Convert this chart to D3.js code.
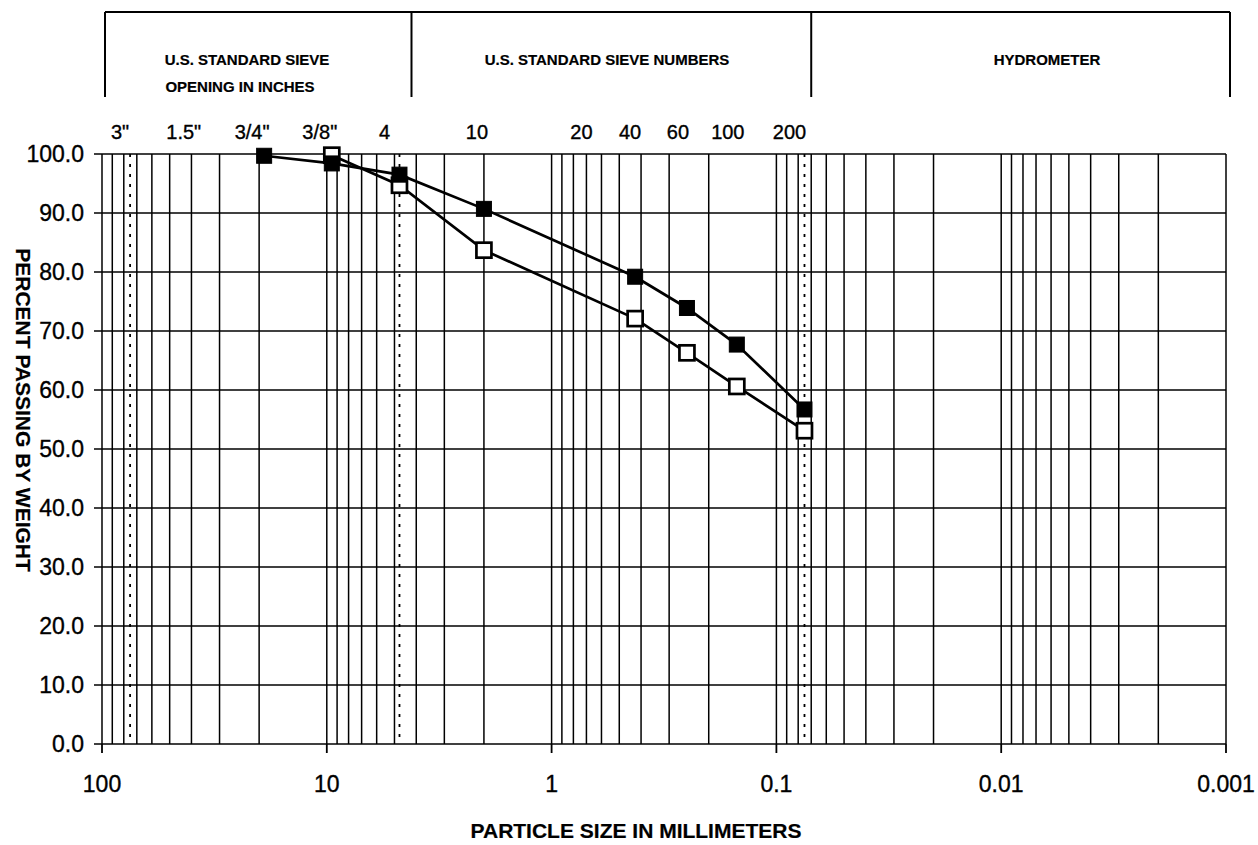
<!DOCTYPE html>
<html>
<head>
<meta charset="utf-8">
<script src="https://cdn.jsdelivr.net/npm/d3@7"></script>
<style>
  html, body { margin: 0; padding: 0; background: #fff; }
  svg { display: block; font-family: "Liberation Sans", Arial, Helvetica, sans-serif; }
  text { fill: #000; stroke: #000; stroke-width: 0.35px; }
</style>
</head>
<body>
<svg id="chart" width="1258" height="845"></svg>
<script>
// ---------------- data ----------------
const sieveLabels = ['3"', '1.5"', '3/4"', '3/8"', '4', '10', '20', '40', '60', '100', '200'];
const sieveSizes  = [75, 37.5, 19, 9.5, 4.75, 2.0, 0.85, 0.425, 0.25, 0.15, 0.075];

const headerTitles = [["U.S. STANDARD SIEVE", "OPENING IN INCHES"], ["U.S.  STANDARD SIEVE NUMBERS"], ["HYDROMETER"]];
const headerEdges  = [97, 4.2, 0.07, 0.00096];   // particle sizes (mm) bounding the header sections

const dottedSizes = [75, 4.75, 0.075];           // 3", #4, #200

const decadeTicks  = [100, 10, 1, 0.1, 0.01, 0.001];
const decadeLabels = ["100", "10", "1", "0.1", "0.01", "0.001"];
const yTicks = [0, 10, 20, 30, 40, 50, 60, 70, 80, 90, 100];

const filledSizes  = [19, 9.5, 4.75, 2.0, 0.425, 0.25, 0.15, 0.075];
const filledValues = [99.7, 98.4, 96.5, 90.7, 79.2, 73.9, 67.7, 56.7];

const openSizes  = [9.5, 4.75, 2.0, 0.425, 0.25, 0.15, 0.075];
const openValues = [99.8, 94.7, 83.7, 72.1, 66.3, 60.6, 53.1];

const xTitle = "PARTICLE SIZE IN MILLIMETERS";
const yTitle = "PERCENT PASSING BY WEIGHT";

// ---------------- layout ----------------
const L = { left: 102, right: 1226, top: 154, bottom: 744 };
const sieveLabelDx = [-10, -14, -12, -12, -15, -7, 14, -5, -9, -9, -15];

const svg = d3.select("#chart");
const x = d3.scaleLog().domain([100, 0.001]).range([L.left, L.right]);
const y = d3.scaleLinear().domain([0, 100]).range([L.bottom, L.top]);

// header box
const hdr = svg.append("g").attr("stroke", "#000").attr("stroke-width", 2);
hdr.append("line").attr("x1", x(headerEdges[0])).attr("x2", x(headerEdges[3])).attr("y1", 12).attr("y2", 12);
headerEdges.forEach(s => hdr.append("line").attr("x1", x(s)).attr("x2", x(s)).attr("y1", 12).attr("y2", 97));

const hdrCenters = [247, 607, 1047];
headerTitles.forEach((lines, i) => {
  lines.forEach((t, j) => {
    svg.append("text")
      .attr("x", hdrCenters[i] + (j === 1 ? -7 : 0))
      .attr("y", 65 + j * 27)
      .attr("text-anchor", "middle")
      .attr("font-size", 15).attr("font-weight", "bold")
      .style("stroke-width", "0.2px")
      .text(t);
  });
});

// sieve labels
svg.append("g").selectAll("text").data(sieveLabels).join("text")
  .attr("x", (d, i) => x(sieveSizes[i]) + sieveLabelDx[i])
  .attr("y", 139)
  .attr("text-anchor", "middle")
  .attr("font-size", 20)
  .text(d => d);

// vertical gridlines
const grid = svg.append("g").attr("stroke", "#000").attr("stroke-width", 1.5);
grid.selectAll("line.v").data(x.ticks()).join("line")
  .attr("class", "v")
  .attr("x1", d => x(d)).attr("x2", d => x(d))
  .attr("y1", L.top).attr("y2", L.bottom);

// dotted lines
grid.selectAll("line.d").data(dottedSizes).join("line")
  .attr("class", "d")
  .attr("x1", d => x(d)).attr("x2", d => x(d))
  .attr("y1", L.top).attr("y2", L.bottom)
  .attr("stroke-width", 1.8)
  .attr("stroke-dasharray", "3,7");

// horizontal gridlines + y ticks
grid.selectAll("line.h").data(yTicks).join("line")
  .attr("class", "h")
  .attr("x1", L.left - 8).attr("x2", L.right)
  .attr("y1", d => y(d)).attr("y2", d => y(d));

// x major ticks
grid.selectAll("line.t").data(decadeTicks).join("line")
  .attr("class", "t")
  .attr("x1", d => x(d)).attr("x2", d => x(d))
  .attr("y1", L.bottom).attr("y2", L.bottom + 9)
  .attr("stroke-width", 1.8);

// y tick labels
svg.append("g").selectAll("text").data(yTicks).join("text")
  .attr("x", 84)
  .attr("y", d => y(d) + 8)
  .attr("text-anchor", "end")
  .attr("font-size", 23)
  .text(d => d3.format(".1f")(d));

// x tick labels
svg.append("g").selectAll("text").data(decadeTicks).join("text")
  .attr("x", d => x(d))
  .attr("y", 792)
  .attr("text-anchor", "middle")
  .attr("font-size", 23)
  .text((d, i) => decadeLabels[i]);

// axis titles
svg.append("text")
  .attr("x", 636).attr("y", 838)
  .attr("text-anchor", "middle")
  .attr("font-size", 21).attr("font-weight", "bold")
  .style("stroke-width", "0.2px")
  .text(xTitle);

svg.append("text")
  .attr("transform", "translate(16,410) rotate(90)")
  .attr("text-anchor", "middle")
  .attr("font-size", 21).attr("font-weight", "bold")
  .style("stroke-width", "0.2px")
  .text(yTitle);

// series
const line = d3.line().x(d => x(d[0])).y(d => y(d[1]));
const openData = openSizes.map((s, i) => [s, openValues[i]]);
const filledData = filledSizes.map((s, i) => [s, filledValues[i]]);

svg.append("path").datum(openData).attr("d", line)
  .attr("fill", "none").attr("stroke", "#000").attr("stroke-width", 2.7);
svg.append("path").datum(filledData).attr("d", line)
  .attr("fill", "none").attr("stroke", "#000").attr("stroke-width", 2.7);

const ms = 15;
svg.append("g").selectAll("rect").data(openData).join("rect")
  .attr("x", d => x(d[0]) - ms / 2).attr("y", d => y(d[1]) - ms / 2)
  .attr("width", ms).attr("height", ms)
  .attr("fill", "#fff").attr("stroke", "#000").attr("stroke-width", 2.7);
svg.append("g").selectAll("rect").data(filledData).join("rect")
  .attr("x", d => x(d[0]) - ms / 2).attr("y", d => y(d[1]) - ms / 2)
  .attr("width", ms).attr("height", ms)
  .attr("fill", "#000").attr("stroke", "#000").attr("stroke-width", 1);
</script>
</body>
</html>
